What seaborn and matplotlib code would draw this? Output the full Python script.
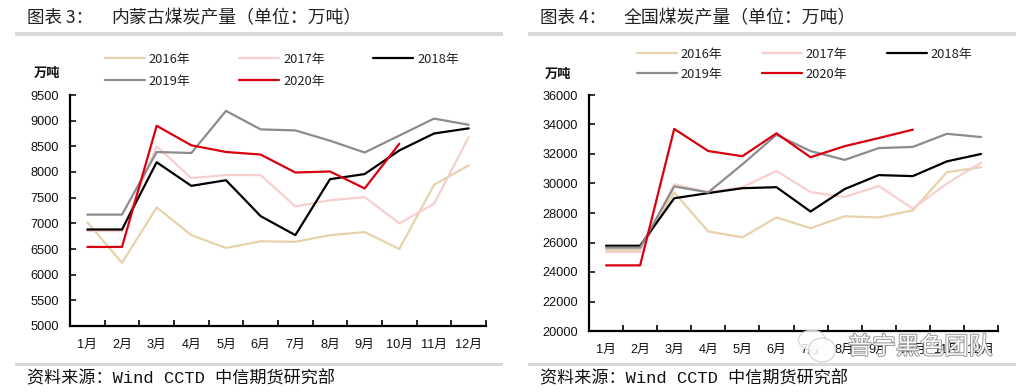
# Coal output charts: Inner Mongolia and national

import pandas as pd
import matplotlib
matplotlib.use("Agg")
import matplotlib.pyplot as plt
import matplotlib.patheffects as pe
from matplotlib.patches import Ellipse, Rectangle
import seaborn as sns

MONTHS = ["1月", "2月", "3月", "4月", "5月", "6月", "7月", "8月", "9月", "10月", "11月", "12月"]
YEARS = ["2016年", "2017年", "2018年", "2019年", "2020年"]
COLORS = ["#e6d3ae", "#f7cfcf", "#000000", "#8c8c8c", "#d7000f"]

# Inner Mongolia
nm_2016 = [7020, 6230, 7310, 6770, 6520, 6650, 6640, 6770, 6830, 6500, 7750, 8130]
nm_2017 = [6850, 6850, 8500, 7880, 7940, 7940, 7330, 7450, 7510, 7000, 7380, 8680]
nm_2018 = [6880, 6880, 8190, 7730, 7840, 7140, 6770, 7860, 7960, 8420, 8750, 8850]
nm_2019 = [7170, 7170, 8390, 8370, 9190, 8830, 8810, 8610, 8380, 8710, 9040, 8920]
nm_2020 = [6540, 6540, 8900, 8520, 8390, 8340, 7990, 8010, 7680, 8550]

# National
cn_2016 = [25500, 25500, 29400, 26750, 26350, 27700, 26970, 27780, 27700, 28180, 30770, 31100]
cn_2017 = [25350, 25350, 29950, 29400, 29750, 30850, 29420, 29080, 29830, 28300, 30000, 31400]
cn_2018 = [25780, 25780, 29000, 29350, 29680, 29750, 28100, 29620, 30570, 30500, 31500, 32000]
cn_2019 = [25650, 25650, 29800, 29400, 31300, 33300, 32200, 31600, 32400, 32480, 33370, 33150]
cn_2020 = [24450, 24450, 33700, 32200, 31850, 33400, 31780, 32530, 33080, 33650]

W, H = 1027, 392
CJK = ["Noto Sans CJK SC", "DejaVu Sans"]
NUM = ["Liberation Sans", "Noto Sans CJK SC"]
MONO = ["Liberation Mono", "Noto Sans CJK SC"]

sns.set_theme(style="white")
plt.rcParams["font.family"] = CJK
plt.rcParams["axes.unicode_minus"] = False

fig = plt.figure(figsize=(W / 100, H / 100), dpi=100)


def long_table(series):
    rows = []
    for year, vals in zip(YEARS, series):
        for month, v in zip(MONTHS, vals):
            rows.append({"month": month, "year": year, "value": v})
    return pd.DataFrame(rows)


def panel(series, box, ylim, step, head, unit_xy, leg_xy, leg_gap, leg_rows, bar_x):
    left, top, right, bottom = box
    ax = fig.add_axes([left / W, 1 - bottom / H, (right - left) / W, (bottom - top) / H])
    sns.lineplot(data=long_table(series), x="month", y="value", hue="year", hue_order=YEARS,
                 palette=COLORS, sort=False, linewidth=1.6, ax=ax)
    ax.set_xlim(-0.5, 11.5)
    ax.set_ylim(*ylim)
    ax.set_xlabel("")
    ax.set_ylabel("")
    ax.set_yticks(range(ylim[0], ylim[1] + 1, step))
    ax.set_xticks([i - 0.5 for i in range(13)], minor=True)
    ax.tick_params(axis="x", which="major", length=0, pad=9, labelsize=9.2, colors="#111111")
    ax.tick_params(axis="x", which="minor", direction="in", length=4, width=1.2, bottom=True, color="black")
    ax.tick_params(axis="y", direction="in", length=4, width=1.2, left=True, pad=8, labelsize=9.2, colors="#111111")
    for lab in ax.get_xticklabels() + ax.get_yticklabels():
        lab.set_family(NUM)
    for side in ["top", "right"]:
        ax.spines[side].set_visible(False)
    for side in ["left", "bottom"]:
        ax.spines[side].set_linewidth(1.6)
        ax.spines[side].set_color("black")

    # legend columns fill top to bottom, so reorder for the 3 + 2 layout
    handles, labels = ax.get_legend_handles_labels()
    order = [0, 3, 1, 4, 2]
    ax.legend([handles[i] for i in order], [labels[i] for i in order], ncol=3, frameon=False,
              loc="upper left", bbox_to_anchor=(leg_xy[0] / W, 1 - leg_xy[1] / H),
              bbox_transform=fig.transFigure, fontsize=9.3, handlelength=3.1, handletextpad=0.3,
              columnspacing=leg_gap, labelspacing=leg_rows, borderpad=0, borderaxespad=0,
              labelcolor="#222222")

    fig.text(unit_xy[0] / W, 1 - unit_xy[1] / H, "万吨", fontsize=9.5, fontweight="bold",
             ha="center", va="center", color="#111111")
    fig.text((bar_x + 12) / W, 1 - 18 / H, head[0], fontsize=12.6, va="center", color="#222222", fontweight="light")
    fig.text((bar_x + 96) / W, 1 - 18 / H, head[1], fontsize=12.9, va="center", color="#222222", fontweight="light")
    fig.text((bar_x + 12) / W, 1 - 378 / H, "资料来源：Wind CCTD 中信期货研究部", fontsize=12.3, va="center",
             color="#111111", family=MONO)
    for y in [34, 364]:
        fig.add_artist(Rectangle((bar_x / W, 1 - (y + 1.5) / H), 488 / W, 3 / H,
                                 transform=fig.transFigure, color="#d9d9d9", lw=0))
    return ax


panel([nm_2016, nm_2017, nm_2018, nm_2019, nm_2020], (70, 95, 486, 326), (5000, 9500), 500,
      ("图表 3：", "内蒙古煤炭产量（单位：万吨）"), (47, 73), (105, 53), 3.75, 0.68, 15)
panel([cn_2016, cn_2017, cn_2018, cn_2019, cn_2020], (589, 95, 998, 331), (20000, 36000), 2000,
      ("图表 4：", "全国煤炭产量（单位：万吨）"), (558, 74), (637, 48), 3.05, 0.52, 528)

# WeChat style watermark at lower right
for cx, cy, w, h in [(812, 340, 27, 20), (822, 350, 27, 24)]:
    fig.add_artist(Ellipse((cx / W, 1 - cy / H), w / W, h / H, transform=fig.transFigure,
                           fc="white", ec="#cfcfcf", lw=1.0, alpha=0.8))
fig.text(920 / W, 1 - 347 / H, "普宁黑色团队", fontsize=17.4, color="white", ha="center", va="center",
         path_effects=[pe.withStroke(linewidth=1.3, foreground="#8f8f8f")], alpha=0.95)

fig.savefig("out.png", dpi=100, facecolor="white")
